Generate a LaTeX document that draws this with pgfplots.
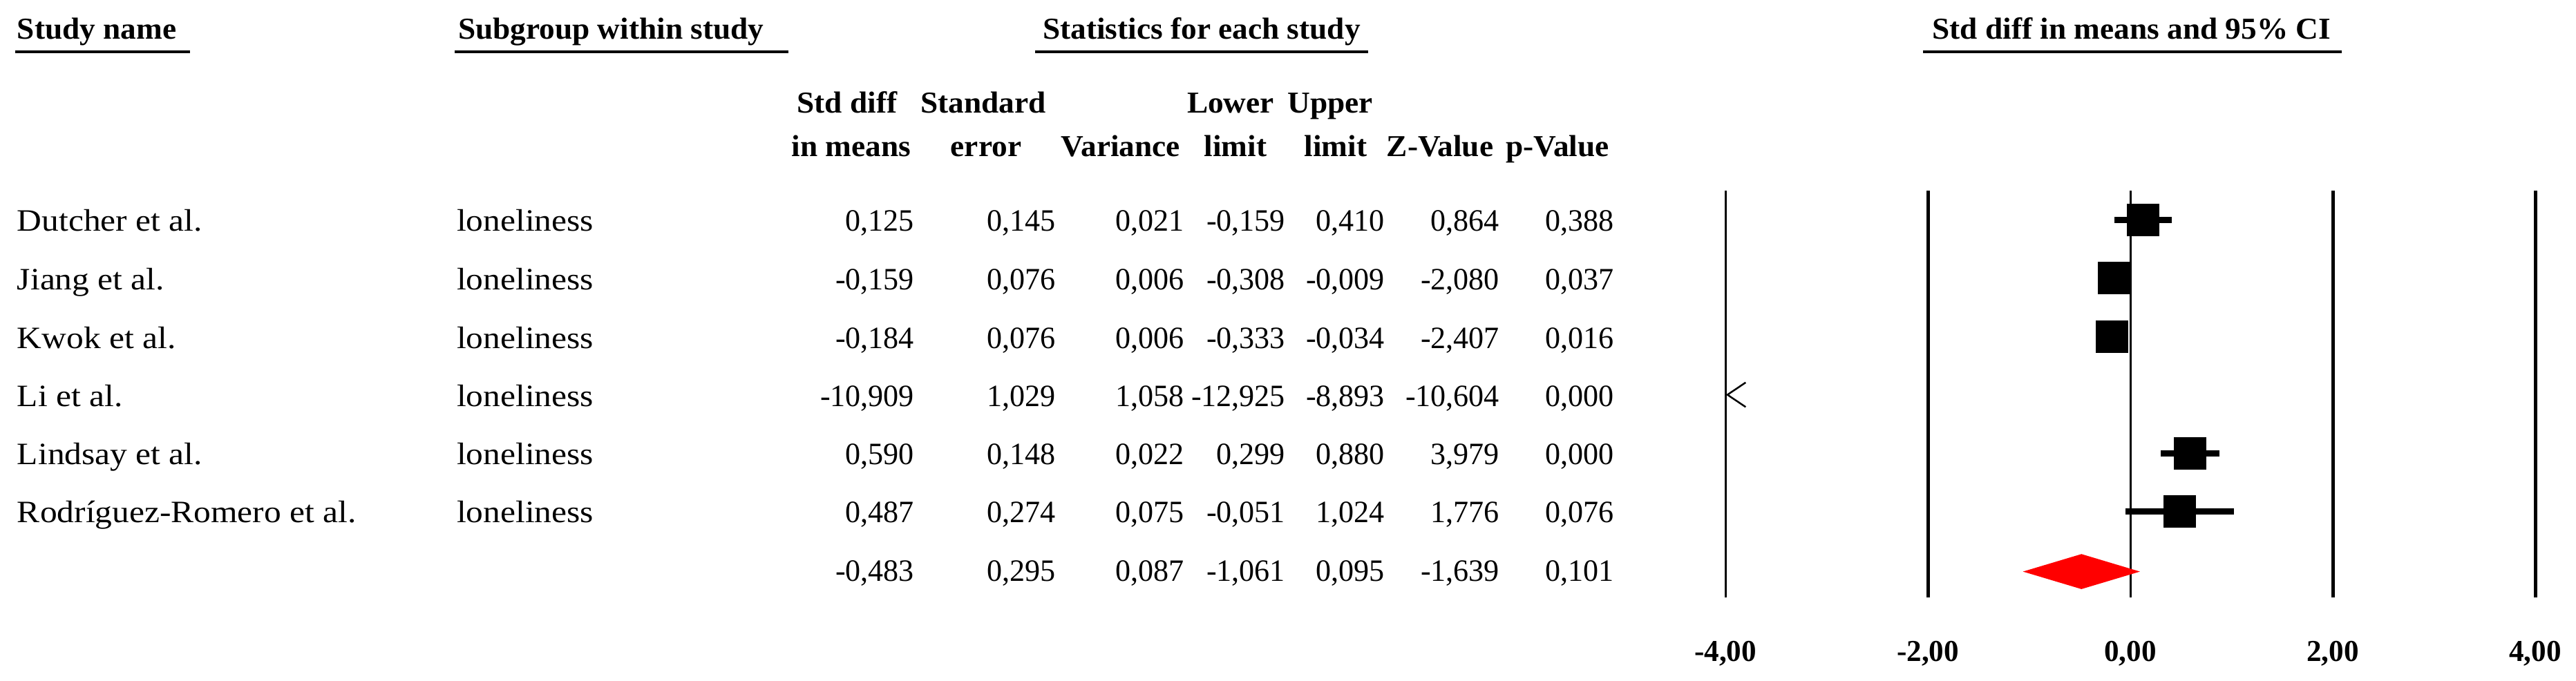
\documentclass[border=0pt]{standalone}
\usepackage{fontspec}
\setmainfont{Liberation Serif}[FakeStretch=1.1]
\newfontfamily\numfamily{Liberation Serif}[FakeStretch=0.98]
\newfontfamily\hdfamily{Liberation Serif}[FakeStretch=1.03]
\usepackage{pgfplots}
\usepackage{pgfplotstable}
\pgfplotsset{compat=1.18}

% forest plot rows (row 7 = top study, row 1 = summary)
\pgfplotstableread{
row est lo hi
7 0.125 -0.159 0.410
6 -0.159 -0.308 -0.009
5 -0.184 -0.333 -0.034
3 0.590 0.299 0.880
2 0.487 -0.051 1.024
}\studies

\newcommand\bodyfont{\fontsize{9}{10}\selectfont}
\newcommand\numfont{\numfamily\fontsize{9}{10}\selectfont}
\newcommand\hdfont{\hdfamily\fontsize{8.8}{10}\selectfont\bfseries}
\newcommand\tickfont{\numfamily\fontsize{8.8}{10}\selectfont\bfseries}
\newcommand\statrow[8]{%
  \node[anchor=base east, font=\numfont] at (1324,#1) {#2};
  \node[anchor=base east, font=\numfont] at (1529,#1) {#3};
  \node[anchor=base east, font=\numfont] at (1715,#1) {#4};
  \node[anchor=base east, font=\numfont] at (1861,#1) {#5};
  \node[anchor=base east, font=\numfont] at (2005,#1) {#6};
  \node[anchor=base east, font=\numfont] at (2171,#1) {#7};
  \node[anchor=base east, font=\numfont] at (2337,#1) {#8};
}

\begin{document}
\begin{tikzpicture}
\path[use as bounding box] (0pt,0pt) rectangle (745.6pt,-197.2pt);
\begin{axis}[
  at={(499.4pt,-173pt)}, anchor=south west,
  scale only axis, width=234.4pt, height=117.84pt,
  xmin=-4, xmax=4, ymin=0.527, ymax=7.5,
  axis line style={draw=none}, major tick length=0pt,
  ytick=\empty,
  xtick={-4,-2,0,2,4},
  xticklabels={{-4,00},{-2,00},{0,00},{2,00},{4,00}},
  xticklabel style={anchor=base, yshift=-18.4pt, inner sep=0pt, font=\tickfont},
  clip=false,
]
\addplot[black, line width=0.6pt] coordinates {(-4,0.527) (-4,7.5)};
\addplot[black, line width=1pt] coordinates {(-2,0.527) (-2,7.5)};
\addplot[black, line width=0.6pt] coordinates {(0,0.527) (0,7.5)};
\addplot[black, line width=1pt] coordinates {(2,0.527) (2,7.5)};
\addplot[black, line width=1pt] coordinates {(4,0.527) (4,7.5)};
\addplot[only marks, mark=square*, mark size=4.6pt,
  mark options={fill=black, draw=black, line width=0pt},
  error bars/.cd, x dir=both, x explicit, error mark=none,
  error bar style={line width=1.8pt, black}]
  table[x=est, y=row,
        x error plus expr=\thisrow{hi}-\thisrow{est},
        x error minus expr=\thisrow{est}-\thisrow{lo}] {\studies};
% Li et al. (-10.909, off scale): arrow at the left edge
\addplot[black, line width=0.5pt] coordinates {(-3.80,4.21) (-3.98,4.0) (-3.80,3.79)};
% summary diamond
\addplot[fill=red, draw=none] coordinates {(-1.061,0.97) (-0.483,1.27) (0.095,0.97) (-0.483,0.67)} -- cycle;
\end{axis}

\begin{scope}[x=0.2pt, y=-0.2pt, every node/.style={inner sep=0pt}]
% top headers
\node[anchor=base west, font=\hdfont] at (24,57) {Study name};
\node[anchor=base west, font=\hdfont] at (662,57) {Subgroup within study};
\node[anchor=base, font=\hdfont] at (1739,57) {Statistics for each study};
\node[anchor=base, font=\hdfont] at (3085,57) {Std diff in means and 95\% CI};
\draw[line width=0.8pt] (22,75) -- (275,75);
\draw[line width=0.8pt] (658,75) -- (1141,75);
\draw[line width=0.8pt] (1498,75) -- (1980,75);
\draw[line width=0.8pt] (2783,75) -- (3389,75);
% column headers
\node[anchor=base, font=\hdfont] at (1226,164) {Std diff};
\node[anchor=base, font=\hdfont] at (1423,164) {Standard};
\node[anchor=base, font=\hdfont] at (1781,164) {Lower};
\node[anchor=base, font=\hdfont] at (1925,164) {Upper};
\node[anchor=base, font=\hdfont] at (1232,227) {in means};
\node[anchor=base, font=\hdfont] at (1427,227) {error};
\node[anchor=base, font=\hdfont] at (1622,227) {Variance};
\node[anchor=base, font=\hdfont] at (1788,227) {limit};
\node[anchor=base, font=\hdfont] at (1933,227) {limit};
\node[anchor=base, font=\hdfont] at (2084,227) {Z-Value};
\node[anchor=base, font=\hdfont] at (2254,227) {p-Value};
% study names and subgroups
\foreach \nm/\yy in {Dutcher et al./335, Jiang et al./420, Kwok et al./505, Li et al./589, Lindsay et al./673, Rodríguez-Romero et al./757}{
  \node[anchor=base west, font=\bodyfont] at (24,\yy) {\nm};
  \node[anchor=base west, font=\bodyfont] at (660,\yy) {loneliness};
}
% statistics columns (right aligned)
\statrow{335}{0,125}{0,145}{0,021}{-0,159}{0,410}{0,864}{0,388}
\statrow{420}{-0,159}{0,076}{0,006}{-0,308}{-0,009}{-2,080}{0,037}
\statrow{505}{-0,184}{0,076}{0,006}{-0,333}{-0,034}{-2,407}{0,016}
\statrow{589}{-10,909}{1,029}{1,058}{-12,925}{-8,893}{-10,604}{0,000}
\statrow{673}{0,590}{0,148}{0,022}{0,299}{0,880}{3,979}{0,000}
\statrow{757}{0,487}{0,274}{0,075}{-0,051}{1,024}{1,776}{0,076}
\statrow{842}{-0,483}{0,295}{0,087}{-1,061}{0,095}{-1,639}{0,101}
\end{scope}
\end{tikzpicture}
\end{document}
